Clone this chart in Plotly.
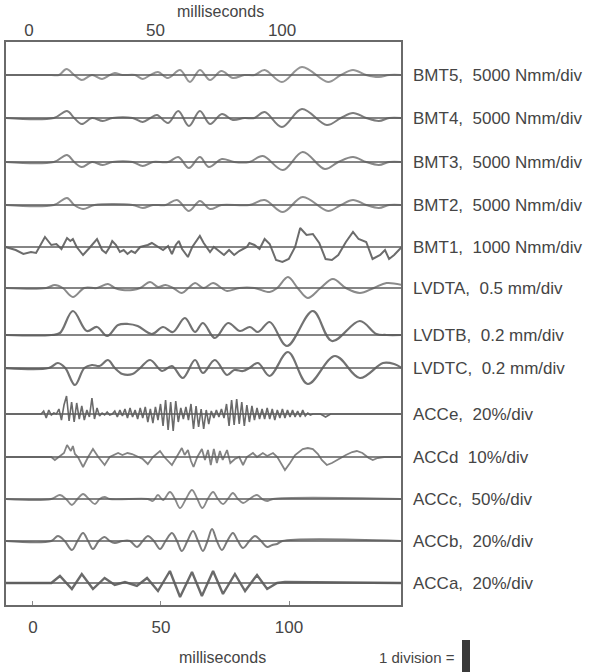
import plotly.graph_objects as go

# ---------------- data ----------------
channel_names = ["BMT5,\u00a0 5000 Nmm/div", "BMT4,\u00a0 5000 Nmm/div", "BMT3,\u00a0 5000 Nmm/div",
                 "BMT2,\u00a0 5000 Nmm/div", "BMT1,\u00a0 1000 Nmm/div", "LVDTA,\u00a0 0.5 mm/div",
                 "LVDTB,\u00a0 0.2 mm/div", "LVDTC,\u00a0 0.2 mm/div", "ACCe,\u00a0 20%/div",
                 "ACCd\u00a0 10%/div", "ACCc,\u00a0 50%/div", "ACCb,\u00a0 20%/div", "ACCa,\u00a0 20%/div"]
# vertical baseline of each channel (scan units, downwards)
channel_offset = [75, 118, 162, 205, 247, 288, 335, 368, 414, 457, 499, 541, 583]

x_ticks = [0, 50, 100]

t_bmt5 = [-10, 8, 11, 14, 17, 20, 24, 28, 31, 33, 36, 41, 44, 47, 50, 54, 58.7, 62.6, 66.5, 70.5, 75,
          79.5, 84, 88, 92, 98.8, 106.7, 117, 122, 126.8, 132, 137, 141, 146]
v_bmt5 = [0, 0, 0, 6, 0, -5, 0, -4, 0, 2, 0, 0, -4, 0, 3, -3, 5, -7, 5, -5, 4,
          -3, 0, 0, 5, -7, 8, -7, 0, 5, 0, -2, 0, 0]

t_bmt4 = [-10, 9, 14.2, 17, 20, 24, 28.3, 32, 40, 44, 47, 49.6, 54, 58, 62.2, 66.5, 70.5, 75.2, 79.5,
          84, 88, 92, 98.8, 106.7, 116.5, 122, 126.8, 132, 137, 141, 146]
v_bmt4 = [0, 0, 7, 0, -6, 0, -3, 0, 0, -4, 0, 3, -5, 7, -8, 7, -6, 4, -2,
          0, 0, 6, -9, 9, -7, 0, 5, 0, -3, 0, 0]

t_bmt3 = [-10, 9, 14.2, 17, 20, 24, 28.3, 32, 40, 44, 48, 54, 58, 62.2, 66.5, 70, 75.2, 80, 86,
          91.3, 99.2, 107, 115.7, 121, 126.8, 132, 137, 141, 146]
v_bmt3 = [0, 0, 7, 0, -5, 0, -3, 0, 0, -4, 0, 0, 5, -6, 5, -5, 3, 0, 0,
          6, -8, 10, -7, 0, 5, 0, -3, 0, 0]

t_bmt2 = [-10, 9, 14.2, 17, 20.5, 25, 40, 44, 48, 53, 57.5, 62.2, 66.5, 70.5, 75, 86, 92, 99.2,
          107, 117, 122, 126.8, 132, 137, 141, 146]
v_bmt2 = [0, 0, 7, 0, -4, 0, 0, -3, 0, 0, 5, -6, 4, -4, 0, 0, 5, -7,
          8, -6, 0, 5, 0, -3, 0, 0]

t_bmt1 = [-10, -6, -3, 0, 2, 5.5, 8, 10, 12, 14.2, 15.5, 16.5, 18, 20.5, 23, 26, 28, 29.5, 31, 32,
          33.5, 35, 36.5, 38, 39.5, 41, 43, 46, 47.6, 50, 52, 54, 55.5, 57, 58.2, 59.5, 61.8, 63.5,
          66.5, 68, 70.5, 72, 74, 76, 78, 80, 82, 85, 86, 88, 90, 92, 94, 96.5, 99, 101.5, 104,
          106, 108.5, 111, 113.5, 116, 118.5, 121, 124, 126.8, 129, 132, 134.5, 137.5, 139.4, 141,
          143, 146]
v_bmt1 = [0, -3, -7, -5, -6, 10, 2, 3, -2, 9, 6, 8, 0, -8, -1, 8, -3, -6, 0, 6,
          2, -5, -3, -7, -4, -6, 0, 2, 4, 0, -3, 1, -7, 2, 6, -2, -10, 0,
          11, 4, -5, 0, -4, -8, -3, -8, -4, 0, 4, 2, -2, 8, 3, -13, -15, -12, 0,
          19, 12, 13, 4, -12, -13, -8, 5, 15, 8, 5, -12, -8, -3, -12,
          -8, 0]

t_lvdta = [-10, 6, 9.4, 12.5, 16.5, 21, 26, 30.3, 33, 36, 40, 43, 46.9, 50, 53, 56, 59.4, 62, 64.6,
           68, 71.7, 75, 77.2, 82, 88, 94, 97, 101.2, 105, 109, 114, 118.9, 124, 129.5, 135, 140, 146]
v_lvdta = [0, 0, 3, 0, -9, 0, 0, 4, 0, -2, -2, 0, 6, 1, 3, 0, -5, 0, 5,
           0, 5, 0, -3, 0, 0, -4, 0, 11, 0, -10, 0, 9, 0, -5, 0, 5, 3]

t_lvdtb = [-10, 8, 11.4, 16.5, 22, 26, 30, 34.3, 38.2, 42, 47.6, 52, 55.9, 60.6, 64.6, 67.7, 72.4,
           77.6, 82.3, 86.2, 89.4, 94, 100.8, 111, 118.5, 129.5, 136, 140, 146]
v_lvdtb = [0, 0, 2, 24, 4, 8, -1, 10, 11, 9, 1, 8, 3, 17, 3, 12, -3,
           12, 4, 8, 3, 13, -11, 24, -6, 14, 1, 0, 0]

t_lvdtc = [-10, 7, 10.6, 13.5, 17.3, 21, 24, 27, 30.3, 33, 36, 40, 43, 46.9, 51.6, 55.5, 59.8, 64.6,
           67.7, 72.4, 77.2, 80, 83.5, 86, 89.4, 94, 101.2, 109, 119.7, 129.5, 138.6, 143, 146]
v_lvdtc = [0, 0, 5, 0, -17, 0, 3, 2, 8, 0, -6, -6, 0, 8, -3, 2, -10, 8,
           -5, 8, -7, -2, -3, 0, 5, -8, 16, -16, 12, -10, 5, 4, 0]

t_acce = [-10, 3] + list(range(4, 113)) + [114, 116, 118, 146]
v_acce = [0, 0,
          0, 3, -4, 4, -1, 1, 0, 5, -6, 9, 18, -7, 12, -8, 11, -5, 8, -6, 4, -3,
          16, -5, 6, -2, 1, -1, 2, -1, 0, 3, -3, 4, -2, 5, -4, 6, -3, 4, -5, 6,
          -4, 7, -8, 5, -9, 7, -6, 10, -12, 14, -16, 12, -17, 13, -8, 6, -5, 7, -6, 10,
          -15, 8, -13, 5, -15, 4, -10, 3, -4, 4, -3, 5, -4, 10, -12, 14, -11, 15, -10, 12,
          -12, 9, -8, 8, -6, 6, -5, 5, -5, 6, -5, 5, -6, 4, -4, 5, -4, 4, -3, 4,
          -3, 3, -3, 4, -2, 1, -1, 0, 0,
          0, -3, 0, 0]

t_accd = [-10, 8, 9.4, 11, 13, 14.2, 15, 15.7, 16.5, 17.3, 18.5, 20.5, 22.5, 24.4, 26.5, 29, 31,
          34.3, 36, 38, 39.8, 42, 44, 46, 48, 50.8, 52.5, 55.5, 57.5, 59.4, 60.5, 61.8, 63, 64,
          65.5, 67.3, 68.5, 69.7, 70.8, 72, 73.2, 74.4, 75.5, 77.2, 78.5, 80.3, 82, 83.5, 85, 87.4,
          89, 91.3, 93, 95.3, 97, 98.5, 100, 102, 104, 107, 109, 111, 113, 114.5, 116.5, 118.5,
          121, 124, 126.5, 128.3, 130.5, 133, 134.6, 136.5, 139, 146]
v_accd = [0, 0, -3, 0, 4, 12, 8, 6, 11, 3, 0, -10, 0, 8, 0, -8, 0,
          4, 2, 4, 3, 0, -2, -7, 0, 6, 0, -8, 0, 9, 2, 7, -4, -10,
          0, 8, -3, 7, -8, 8, -6, 6, -3, 7, -6, -2, 0, -8, 0, 4,
          0, 4, 1, 4, 0, -6, -13, -6, 2, 8, 9, 8, 3, -3, -8, -6,
          -2, 2, 5, 6, 4, -1, -3, -1, 0, 0]

t_accc = [-10, 8, 11.4, 13.8, 16.1, 18.3, 20.5, 22.8, 25.2, 27, 29, 31, 46, 48, 50, 52, 54.7, 56.7,
          58.7, 61, 63.4, 65.5, 67.5, 69.6, 71.7, 73.6, 75.6, 77.5, 79.5, 81.5, 83.5, 86, 89, 91,
          93, 95.3, 146]
v_accc = [0, 0, 4, 0, -6, 0, 5, 0, -5, 0, 2, 0, 0, -2, 4, -1, 7, 0,
          -9, 0, 9, 0, -9, 0, 7, 0, -5, 0, 6, 0, -4, 0, 4, 0,
          -2, 0, 0]

t_accb = [-10, 8, 10.6, 13.3, 16.1, 18.3, 20.5, 22.5, 24.4, 26.7, 29, 31, 33, 36, 39, 41.7, 44, 46,
          48.4, 50.8, 53, 55.5, 57.5, 59.4, 61.6, 63.8, 65.8, 67.7, 69.5, 71.3, 73.2, 75.2, 77.3,
          79.5, 81.5, 83.5, 86, 88.2, 90.6, 93, 95, 96.9, 99, 146]
v_accb = [0, 0, 5, 0, -9, 0, 8, 0, -8, 0, 4, 0, -2, 0, 0, -6, 0, 5,
          0, -8, 0, 8, 0, -10, 0, 10, 0, -10, 0, 12, 0, -9, 0,
          8, 0, -7, 0, 5, 0, -6, -4, -3, 0, 0]

t_acca = [-10, 8, 11.4, 16.1, 20, 24.4, 29, 33, 37, 41.7, 45.7, 50, 54.7, 58.7, 63.4, 67.3, 71.7,
          75.6, 80.3, 84.3, 89, 93, 96.9, 100, 146]
v_acca = [0, 0, 7, -6, 9, -6, 5, -2, 1, -3, 5, -8, 12, -14, 11, -13, 12,
          -11, 9, -8, 8, -6, 0, 1, 0]

signals_t = [t_bmt5, t_bmt4, t_bmt3, t_bmt2, t_bmt1, t_lvdta, t_lvdtb, t_lvdtc,
             t_acce, t_accd, t_accc, t_accb, t_acca]
signals_v = [v_bmt5, v_bmt4, v_bmt3, v_bmt2, v_bmt1, v_lvdta, v_lvdtb, v_lvdtc,
             v_acce, v_accd, v_accc, v_accb, v_acca]

# ---------------- styling ----------------
line_shapes = ["spline", "spline", "spline", "spline", "linear", "spline", "spline", "spline",
               "linear", "linear", "spline", "spline", "linear"]
line_colors = ["#959595", "#7c7c7c", "#888888", "#8e8e8e", "#6c6c6c", "#8a8a8a", "#727272",
               "#727272", "#6a6a6a", "#838383", "#8a8a8a", "#7c7c7c", "#6a6a6a"]
line_widths = [2, 2, 2, 2, 2, 2, 2.2, 2.2, 1.6, 1.8, 1.8, 2, 2.4]

X_RANGE = [-9.84, 145.7]
Y_RANGE = [605, 42]
INK = "#454545"
FONT = "Liberation Sans, Arial, sans-serif"

fig = go.Figure()

for t, v, off, shp, col, w in zip(signals_t, signals_v, channel_offset, line_shapes,
                                  line_colors, line_widths):
    fig.add_trace(go.Scatter(
        x=t, y=[off - d for d in v], mode="lines",
        line=dict(color=col, width=w, shape=shp, smoothing=1.0 if shp == "spline" else None),
        hoverinfo="skip", showlegend=False))

for off in channel_offset:
    fig.add_trace(go.Scatter(x=X_RANGE, y=[off, off], mode="lines",
                             line=dict(color="#5c5c5c", width=1.5),
                             hoverinfo="skip", showlegend=False))

# invisible traces to attach top and bottom tick axes
fig.add_trace(go.Scatter(x=x_ticks, y=[channel_offset[0]] * 3, xaxis="x2", yaxis="y",
                         mode="markers", marker=dict(opacity=0), hoverinfo="skip",
                         showlegend=False))
fig.add_trace(go.Scatter(x=x_ticks, y=[channel_offset[0]] * 3, xaxis="x3", yaxis="y",
                         mode="markers", marker=dict(opacity=0), hoverinfo="skip",
                         showlegend=False))

annotations = []
for name, off in zip(channel_names, channel_offset):
    annotations.append(dict(text=name, x=1.0253, xref="paper", y=off, yref="y",
                            xanchor="left", yanchor="middle", showarrow=False,
                            font=dict(family=FONT, size=17, color=INK)))
annotations += [
    dict(text="milliseconds", x=0.542, y=1.0533, xref="paper", yref="paper",
         xanchor="center", yanchor="middle", showarrow=False,
         font=dict(family=FONT, size=16, color=INK)),
    dict(text="milliseconds", x=0.547, y=-0.0924, xref="paper", yref="paper",
         xanchor="center", yanchor="middle", showarrow=False,
         font=dict(family=FONT, size=16, color=INK)),
    dict(text="1 division =", x=1.1418, y=-0.0924, xref="paper", yref="paper",
         xanchor="right", yanchor="middle", showarrow=False,
         font=dict(family=FONT, size=15, color=INK)),
]

fig.update_layout(
    width=609, height=672,
    margin=dict(l=6, r=208, t=42, b=67),
    paper_bgcolor="white", plot_bgcolor="white",
    xaxis=dict(range=X_RANGE, showline=True, mirror=True, linecolor="#6a6a6a", linewidth=1.5,
               ticks="", showticklabels=False, showgrid=False, zeroline=False),
    xaxis2=dict(overlaying="x", side="top", anchor="y", range=[-9.1, 147.0],
                tickvals=x_ticks, ticks="", showline=False, showgrid=False, zeroline=False,
                tickfont=dict(family=FONT, size=17, color=INK), ticklabelstandoff=2),
    xaxis3=dict(overlaying="x", side="bottom", anchor="y", range=[-10.5, 143.7],
                tickvals=x_ticks, ticks="inside", ticklen=4, tickcolor="#888888",
                showline=False, showgrid=False, zeroline=False,
                tickfont=dict(family=FONT, size=17, color=INK), ticklabelstandoff=10),
    yaxis=dict(range=Y_RANGE, showline=True, mirror=True, linecolor="#6a6a6a", linewidth=1.5,
               ticks="", showticklabels=False, showgrid=False, zeroline=False),
    annotations=annotations,
    shapes=[dict(type="rect", xref="paper", yref="paper", x0=1.1544, x1=1.1747,
                 y0=-0.119, y1=-0.0622, fillcolor="#3a3a3a", line=dict(width=0))],
)

fig.write_html("out.html", config={"displayModeBar": False},
               post_script="document.body.style.margin='0';document.body.style.overflow='hidden';")
